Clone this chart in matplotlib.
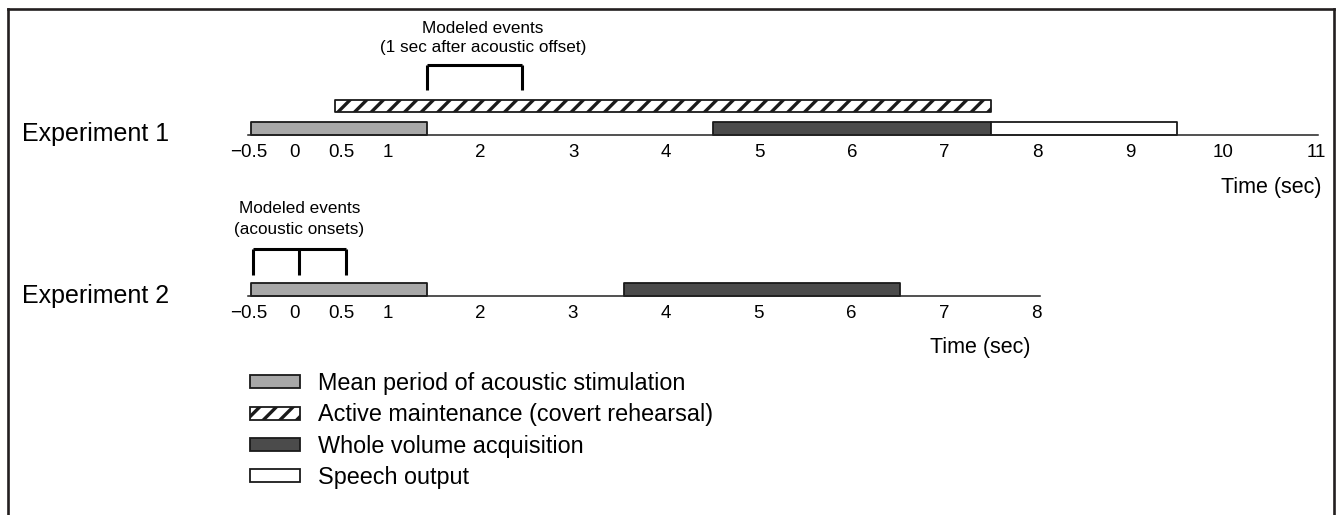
import matplotlib
matplotlib.use('Agg')
import matplotlib.pyplot as plt
from matplotlib.patches import Patch
from matplotlib.lines import Line2D

plt.rcParams['font.family'] = ['Liberation Sans', 'DejaVu Sans']
plt.rcParams['hatch.linewidth'] = 2.4
plt.rcParams['hatch.color'] = 'black'

# ---------------- data ----------------
exp1_ticks = [-0.5, 0, 0.5, 1, 2, 3, 4, 5, 6, 7, 8, 9, 10, 11]
exp1_tick_labels = ['\u22120.5', '0', '0.5', '1', '2', '3', '4', '5', '6', '7', '8', '9', '10', '11']
exp1_xlim = (-0.47, 11.02)
exp1_stimulation = [-0.47, 1.43]      # start, end (sec)
exp1_maintenance = [0.43, 7.5]
exp1_acquisition = [4.5, 7.5]
exp1_speech = [7.5, 9.5]
exp1_events = [1.43, 2.45]            # modeled events (1 sec after acoustic offset)

exp2_ticks = [-0.5, 0, 0.5, 1, 2, 3, 4, 5, 6, 7, 8]
exp2_tick_labels = ['\u22120.5', '0', '0.5', '1', '2', '3', '4', '5', '6', '7', '8']
exp2_xlim = (-0.47, 8.03)
exp2_stimulation = [-0.47, 1.43]
exp2_acquisition = [3.55, 6.53]
exp2_events = [-0.45, 0.05, 0.55]     # modeled events (acoustic onsets)

legend_labels = ['Mean period of acoustic stimulation',
                 'Active maintenance (covert rehearsal)',
                 'Whole volume acquisition',
                 'Speech output']

# ---------------- styles ----------------
C_STIM = '#a8a8a8'
C_ACQ = '#4b4b4b'
C_EDGE = '#1a1a1a'
EDGE_LW = 1.3

W, H = 1336, 515
X0, S = 292.0, 93.1   # pixel of t=0, pixels per second

fig = plt.figure(figsize=(W / 100, H / 100), dpi=100)
fig.patch.set_facecolor('white')


def make_axes(xlim, y_bottom_px, y_top_px):
    left = (X0 + S * xlim[0]) / W
    width = S * (xlim[1] - xlim[0]) / W
    bottom = 1 - y_bottom_px / H
    height = (y_bottom_px - y_top_px) / H
    ax = fig.add_axes([left, bottom, width, height])
    ax.set_xlim(xlim)
    ax.set_ylim(0, y_bottom_px - y_top_px)
    for s in ['left', 'right', 'top']:
        ax.spines[s].set_visible(False)
    ax.spines['bottom'].set_linewidth(1.1)
    ax.spines['bottom'].set_color('#222222')
    ax.set_yticks([])
    ax.patch.set_alpha(0)
    ax.tick_params(axis='x', length=0, pad=6.5, labelsize=13.5)
    return ax


def bar(ax, span, y, h, **kw):
    ax.broken_barh([(span[0], span[1] - span[0])], (y, h),
                   edgecolor=C_EDGE, linewidth=EDGE_LW, **kw)


# ---------------- Experiment 1 ----------------
ax1 = make_axes(exp1_xlim, 135, 60)
ax1.set_xticks(exp1_ticks)
ax1.set_xticklabels(exp1_tick_labels)
bar(ax1, exp1_stimulation, 0, 13, facecolor=C_STIM)
bar(ax1, exp1_acquisition, 0, 13, facecolor=C_ACQ)
bar(ax1, exp1_speech, 0, 13, facecolor='white')
bar(ax1, exp1_maintenance, 23, 12, facecolor='white', hatch='//')
ax1.vlines(exp1_events, 45, 70, color='black', lw=2.2, clip_on=False)
ax1.hlines(70, exp1_events[0], exp1_events[-1], color='black', lw=2.2, clip_on=False)
ax1.text(2.03, 97, 'Modeled events\n(1 sec after acoustic offset)', ha='center',
         va='center', fontsize=12.3, clip_on=False, linespacing=1.3)
ax1.text(11.06, -52, 'Time (sec)', ha='right', va='center', fontsize=15.5, clip_on=False)

# ---------------- Experiment 2 ----------------
ax2 = make_axes(exp2_xlim, 296, 240)
ax2.set_xticks(exp2_ticks)
ax2.set_xticklabels(exp2_tick_labels)
bar(ax2, exp2_stimulation, 0, 13, facecolor=C_STIM)
bar(ax2, exp2_acquisition, 0, 13, facecolor=C_ACQ)
ax2.vlines(exp2_events, 21, 47, color='black', lw=2.2, clip_on=False)
ax2.hlines(47, exp2_events[0], exp2_events[-1], color='black', lw=2.2, clip_on=False)
ax2.text(0.05, 77, 'Modeled events\n(acoustic onsets)', ha='center',
         va='center', fontsize=12.3, clip_on=False, linespacing=1.5)
ax2.text(7.93, -51, 'Time (sec)', ha='right', va='center', fontsize=15.5, clip_on=False)

# ---------------- labels ----------------
fig.text(22 / W, 1 - 134 / H, 'Experiment 1', ha='left', va='center', fontsize=18)
fig.text(22 / W, 1 - 296 / H, 'Experiment 2', ha='left', va='center', fontsize=18)

# ---------------- legend ----------------
handles = [Patch(facecolor=C_STIM, edgecolor=C_EDGE, linewidth=EDGE_LW),
           Patch(facecolor='white', edgecolor=C_EDGE, linewidth=EDGE_LW, hatch='//'),
           Patch(facecolor=C_ACQ, edgecolor=C_EDGE, linewidth=EDGE_LW),
           Patch(facecolor='white', edgecolor=C_EDGE, linewidth=EDGE_LW)]
fig.legend(handles, legend_labels, loc='upper left',
           bbox_to_anchor=(250 / W, 1 - 372 / H), frameon=False,
           fontsize=16.8, handlelength=2.14, handleheight=0.47,
           handletextpad=0.77, labelspacing=0.36, borderpad=0, borderaxespad=0)

# ---------------- frame ----------------
fc = '#231f20'
fig.add_artist(Line2D([7.5 / W, 7.5 / W], [0, 1 - 8.5 / H], color=fc, lw=1.9,
                      transform=fig.transFigure, solid_capstyle='projecting'))
fig.add_artist(Line2D([7.5 / W, 1333.5 / W], [1 - 8.5 / H, 1 - 8.5 / H], color=fc, lw=1.9,
                      transform=fig.transFigure, solid_capstyle='projecting'))
fig.add_artist(Line2D([1333.5 / W, 1333.5 / W], [0, 1 - 8.5 / H], color=fc, lw=1.9,
                      transform=fig.transFigure, solid_capstyle='projecting'))

fig.savefig('out.png', dpi=100, facecolor='white')
